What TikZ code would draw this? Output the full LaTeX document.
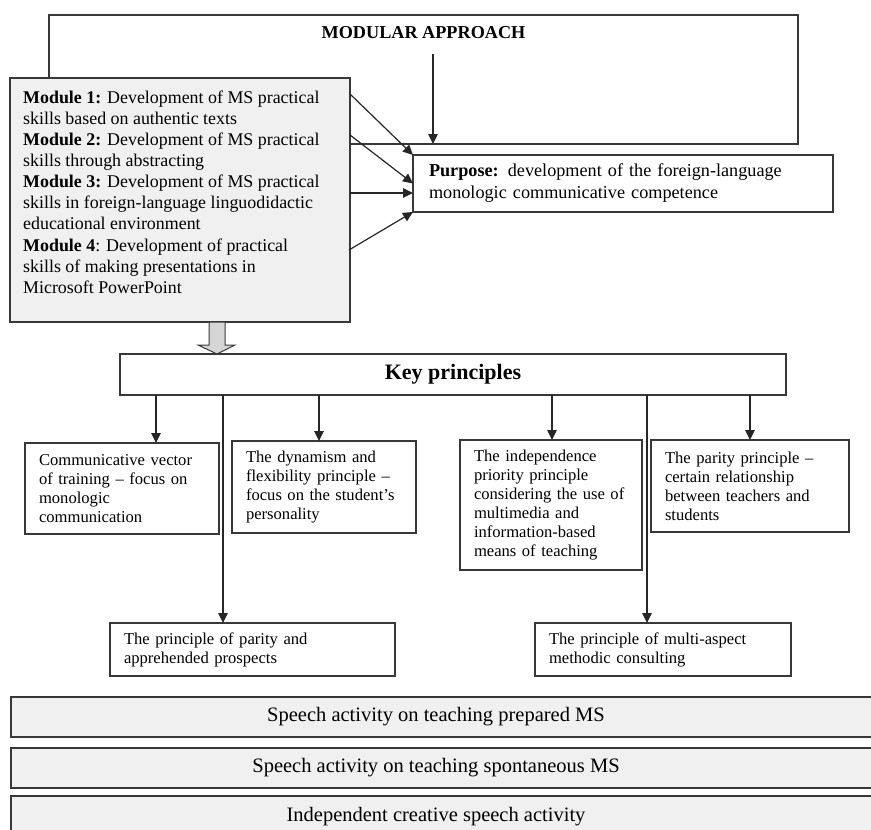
\documentclass[tikz,border=0pt]{standalone}
\usepackage{fontspec}
\setmainfont{Liberation Serif}
\usetikzlibrary{arrows.meta,calc}
\definecolor{boxgray}{HTML}{F0F0F0}
\definecolor{arrowgray}{HTML}{D6D6D6}
\definecolor{linecol}{HTML}{383838}
\begin{document}
\begin{tikzpicture}[x=1pt,y=-1pt,
  frame/.style={draw=linecol, line width=1.3pt, anchor=north west, inner sep=0pt, outer sep=0pt},
  pbox/.style={frame, fill=white, align=left, inner xsep=14pt, inner ysep=0pt,
    font=\fontsize{16.6}{19}\selectfont},
  arr/.style={draw=black!85, line width=1.2pt, -{Triangle[length=10pt,width=9.5pt]}},
  bar/.style={frame, fill=boxgray, minimum width=900pt, minimum height=40pt},
  bartext/.style={font=\fontsize{20.5}{24}\selectfont, inner sep=0pt},
  blockarr/.style={draw=linecol, line width=1pt, fill=arrowgray, line join=miter},
]
\useasboundingbox (0,0) rectangle (871,830);

% outer modular approach frame
\node[frame, minimum width=749pt, minimum height=129pt] (outer) at (49,15) {};
\node[inner sep=0pt, font=\fontsize{18.2}{22}\selectfont\bfseries] (title) at (423.5,33) {MODULAR APPROACH};

% modules box
\node[frame, fill=boxgray, minimum width=340pt, minimum height=244pt] (modbox) at (10,78) {};
\node[anchor=north west, inner sep=0pt, align=left, font=\fontsize{17.9}{21.1}\selectfont] (modtext) at (23,90.5)
{\textbf{Module 1:} Development of MS practical\\
skills based on authentic texts\\
\textbf{Module 2:} Development of MS practical\\
skills through abstracting\\
\textbf{Module 3:} Development of MS practical\\
skills in foreign-language linguodidactic\\
educational environment\\
\textbf{Module 4}: Development of practical\\
skills of making presentations in\\
Microsoft PowerPoint};

% purpose box
\node[frame, fill=white, minimum width=420pt, minimum height=57pt, text width=388pt, align=left,
      inner xsep=16pt, font=\fontsize{18.2}{22}\selectfont] (purpose) at (413,155)
{\textbf{Purpose:} development of the foreign-language\\
monologic communicative competence};

% arrows
\coordinate (ma) at (433,54);
\draw[arr] (ma) -- (ma |- outer.south);
\coordinate (m1) at (350,94);
\coordinate (m2) at (350,135);
\coordinate (m3) at (350,193);
\coordinate (m4) at (349,250);
\draw[arr] (m1) -- (purpose.north west);
\draw[arr] (m2) -- (purpose.west);
\draw[arr] (m3) -- (m3 -| purpose.west);
\draw[arr] (m4) -- (purpose.south west);

% key principles
\node[frame, minimum width=666pt, minimum height=41pt, font=\fontsize{22}{26}\selectfont\bfseries, anchor=north west]
  (keyp) at (120,354) {Key principles};

% block arrow
\coordinate (ba) at (217,0);
\draw[blockarr] ($(ba |- modbox.south)+(-8,0)$) -- ($(ba |- keyp.north)+(-8,-9)$)
  -- ($(ba |- keyp.north)+(-19,-9)$) -- (ba |- keyp.north) -- ($(ba |- keyp.north)+(18,-9)$)
  -- ($(ba |- keyp.north)+(8,-9)$) -- ($(ba |- modbox.south)+(8,0)$) -- cycle;

% principle boxes
\node[pbox, minimum width=194pt, minimum height=91pt, text width=166pt] (c1) at (25,443)
{Communicative vector\\ of training – focus on\\ monologic\\ communication};
\node[pbox, minimum width=184pt, minimum height=92pt, text width=156pt] (c2) at (232,441)
{The dynamism and\\ flexibility principle –\\ focus on the student’s\\ personality};
\node[pbox, minimum width=182pt, minimum height=130pt, text width=154pt] (c3) at (460,440)
{The independence\\ priority principle\\ considering the use of\\ multimedia and\\ information-based\\ means of teaching};
\node[pbox, minimum width=198pt, minimum height=92pt, text width=170pt] (c4) at (651,440)
{The parity principle –\\ certain relationship\\ between teachers and\\ students};
\node[pbox, minimum width=285pt, minimum height=53pt, text width=257pt] (c5) at (110,623)
{The principle of parity and\\ apprehended prospects};
\node[pbox, minimum width=256pt, minimum height=53pt, text width=228pt] (c6) at (535,623)
{The principle of multi-aspect\\ methodic consulting};

\coordinate (k1) at (156,0);
\coordinate (k5) at (223,0);
\coordinate (k2) at (319,0);
\coordinate (k3) at (552,0);
\coordinate (k6) at (647,0);
\coordinate (k4) at (750,0);
\draw[arr] (k1 |- keyp.south) -- (k1 |- c1.north);
\draw[arr] (k5 |- keyp.south) -- (k5 |- c5.north);
\draw[arr] (k2 |- keyp.south) -- (k2 |- c2.north);
\draw[arr] (k3 |- keyp.south) -- (k3 |- c3.north);
\draw[arr] (k6 |- keyp.south) -- (k6 |- c6.north);
\draw[arr] (k4 |- keyp.south) -- (k4 |- c4.north);

% bottom bars
\node[bar] (bar1) at (11,697) {};
\node[bar] (bar2) at (11,748) {};
\node[bar] (bar3) at (11,796) {};
\node[bartext] (t1) at (436,717) {Speech activity on teaching prepared MS};
\node[bartext] (t2) at (436,768) {Speech activity on teaching spontaneous MS};
\node[bartext] (t3) at (436,817) {Independent creative speech activity};
\end{tikzpicture}
\end{document}
